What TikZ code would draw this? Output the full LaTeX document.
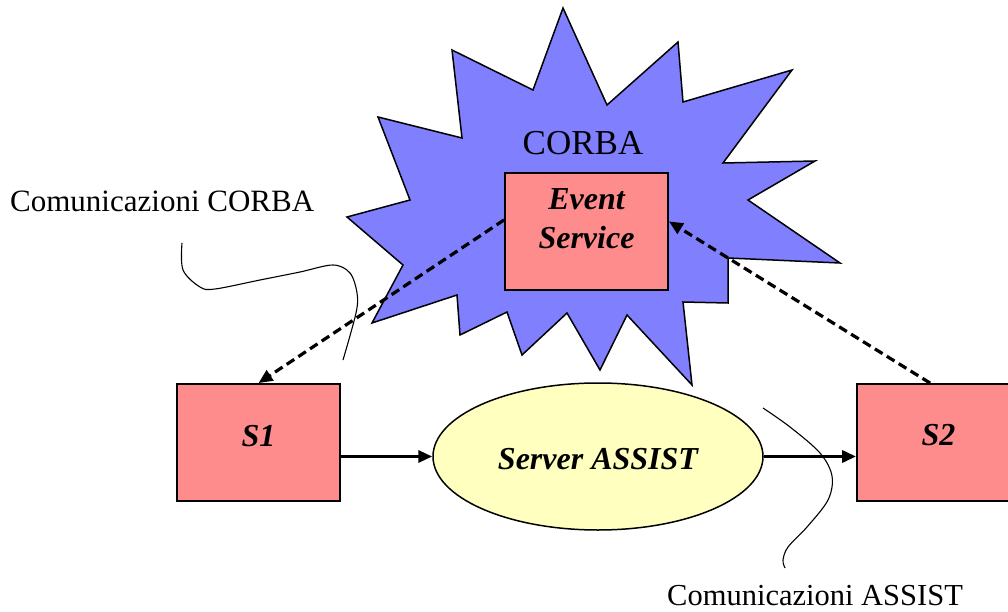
\documentclass[tikz,border=0pt]{standalone}
\usepackage{fontspec}
\setmainfont{Liberation Serif}
\usetikzlibrary{arrows.meta,shapes.geometric}
\definecolor{starblue}{RGB}{128,128,255}
\definecolor{boxpink}{RGB}{255,140,140}
\definecolor{ellyellow}{RGB}{255,255,192}
\begin{document}
\begin{tikzpicture}[x=1pt,y=-1pt,
  box/.style={draw=black, line width=1.8pt, fill=boxpink, minimum width=163pt, minimum height=117pt, inner sep=0pt, font=\bfseries\itshape\fontsize{32}{38}\selectfont},
  oval/.style={ellipse, draw=black, line width=1.5pt, fill=ellyellow, minimum width=330pt, minimum height=147pt, inner sep=0pt, font=\bfseries\itshape\fontsize{32}{38}\selectfont},
  boxtext/.style={anchor=base, inner sep=0pt, font=\bfseries\itshape\fontsize{32}{38}\selectfont},
  plain/.style={anchor=base west, inner sep=0pt},
  flow/.style={line width=3.3pt, -{Triangle[length=14pt,width=12pt]}},
  eventflow/.style={line width=3.2pt, dash pattern=on 9pt off 5pt, -{Triangle[length=14pt,width=12pt]}},
  thin/.style={line width=1.1pt, black}
]
\useasboundingbox (0,0) rectangle (1008,612);
\fill[white] (0,0) rectangle (1008,612);

% CORBA star
\filldraw[fill=starblue, draw=black, line width=1.5pt, line join=miter]
  (563,8) -- (607,105) -- (678,42) -- (683,102) -- (792,70) -- (723,163)
  -- (815,161) -- (748,200) -- (840,263) -- (728,258) -- (728,303)
  -- (683,302) -- (692,385) -- (627,315) -- (600,370) -- (567,313)
  -- (522,355) -- (507,312) -- (460,335) -- (457,295) -- (372,323)
  -- (403,265) -- (347,217) -- (410,200) -- (378,117) -- (462,138)
  -- (452,50) -- (533,90) -- cycle;

\node[anchor=base, inner sep=0pt, font=\fontsize{35}{40}\selectfont] (corba) at (583,155) {CORBA};

% Event Service box
\node[box] (ES) at (586.5,231.5) {};
\node[boxtext] (evt) at (586.5,210) {Event};
\node[boxtext] (svc) at (586.5,248) {Service};

% S1, Server ASSIST, S2
\node[box, text height=21pt, text depth=14pt] (S1) at (258.5,442.5) {S1};
\node[oval, text height=30pt, text depth=4pt] (SA) at (598,456.5) {Server ASSIST};
\node[box, text height=21pt, text depth=16pt] (S2) at (938.5,442.5) {S2};

% labels
\node[plain, font=\fontsize{31}{36}\selectfont] (lcorba) at (10,212) {Comunicazioni CORBA};
\node[plain, font=\fontsize{30.5}{36}\selectfont] (lassist) at (667,605) {Comunicazioni ASSIST};

% thin annotation curves
\draw[thin] plot[smooth, tension=0.55] coordinates {(182,243) (183,270) (200,287) (215,289) (260,280) (300,272) (333,265) (350,273) (357,293) (356,313) (343,360)};
\draw[thin] plot[smooth, tension=0.55] coordinates {(763,408) (790,427) (820,453) (832,476) (828,500) (807,527) (788,547) (783,560) (785,568)};

% connectors
\draw[flow] (S1.east |- SA.west) -- (SA.west);
\draw[flow] (SA.east) -- (SA.east -| S2.west);
\draw[eventflow] (ES.172) -- (S1.north);
\draw[eventflow] (S2.98) -- (ES.7);
\end{tikzpicture}
\end{document}
